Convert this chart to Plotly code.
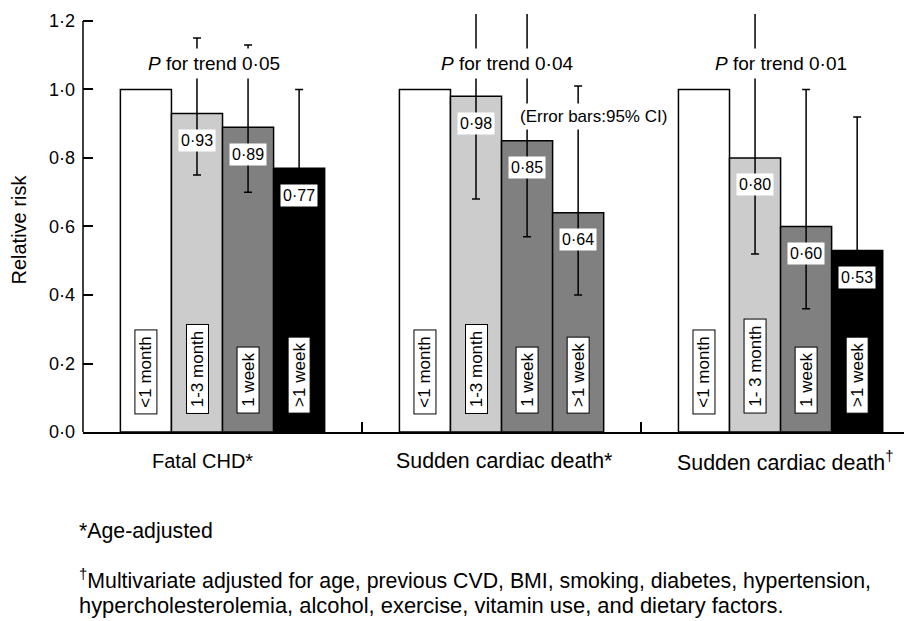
import plotly.graph_objects as go

# ---------------- data ----------------
outcomes = ["Fatal CHD*", "Sudden cardiac death*", "Sudden cardiac death<sup>†</sup>"]
series_names = ["<1 month", "1-3 month", "1 week", ">1 week"]
bar_labels = [
    ["<1 month", "1-3 month", "1 week", ">1 week"],
    ["<1 month", "1-3 month", "1 week", ">1 week"],
    ["<1 month", "1- 3 month", "1 week", ">1 week"],
]
rr_lt1month = [1.00, 1.00, 1.00]
rr_1to3month = [0.93, 0.98, 0.80]
rr_1week = [0.89, 0.85, 0.60]
rr_gt1week = [0.77, 0.64, 0.53]

ci_hi_1to3month = [1.15, 1.30, 1.40]
ci_lo_1to3month = [0.75, 0.68, 0.52]
ci_hi_1week = [1.13, 1.30, 1.00]
ci_lo_1week = [0.70, 0.57, 0.36]
ci_hi_gt1week = [1.00, 1.01, 0.92]
ci_lo_gt1week = [0.60, 0.40, 0.30]

p_trend = ["0·05", "0·04", "0·01"]
y_ticks = [0.0, 0.2, 0.4, 0.6, 0.8, 1.0, 1.2]

# ---------------- styling ----------------
fills = [
    ["white", "white", "white"],
    ["#cccccc", "#cccccc", "#cccccc"],
    ["#808080", "#808080", "#808080"],
    ["black", "#808080", "black"],
]
values = [rr_lt1month, rr_1to3month, rr_1week, rr_gt1week]
his = [None, ci_hi_1to3month, ci_hi_1week, ci_hi_gt1week]
los = [None, ci_lo_1to3month, ci_lo_1week, ci_lo_gt1week]

FONT = "Liberation Sans, Arial, sans-serif"
bargap = 0.268
w = (1 - bargap) / 4
offsets = [(-1.5 + k) * w for k in range(4)]

fig = go.Figure()
for j, name in enumerate(series_names):
    err = None
    if his[j] is not None:
        err = dict(
            type="data",
            symmetric=False,
            array=[h - v for h, v in zip(his[j], values[j])],
            arrayminus=[v - l for v, l in zip(values[j], los[j])],
            color="black",
            thickness=1.5,
            width=4,
        )
    fig.add_trace(
        go.Bar(
            x=outcomes,
            y=values[j],
            name=name,
            marker=dict(color=fills[j], line=dict(color="black", width=1.5)),
            error_y=err,
            showlegend=False,
        )
    )

ann = []
# labels inside bars (rotated, boxed)
for i in range(len(outcomes)):
    for j in range(4):
        ann.append(dict(
            x=i + offsets[j], y=0, xref="x", yref="y", yshift=18,
            text="\u00a0" + bar_labels[i][j].replace("<", "&lt;").replace(">", "&gt;") + "\u00a0",
            textangle=-90, showarrow=False, xanchor="center", yanchor="bottom",
            bgcolor="white", bordercolor="black", borderwidth=1, borderpad=1,
            font=dict(family=FONT, size=17, color="black"),
        ))
        if j > 0:
            v = values[j][i]
            ann.append(dict(
                x=i + offsets[j], y=v, xref="x", yref="y", yshift=-27,
                text=f"{v:.2f}".replace(".", "·"), showarrow=False,
                xanchor="center", yanchor="middle",
                bgcolor="white", borderpad=2,
                font=dict(family=FONT, size=16, color="black"),
            ))

# P for trend
p_x = [-0.032, 1.02, 2.0]
for i in range(len(outcomes)):
    ann.append(dict(
        x=p_x[i], y=1.077, xref="x", yref="y",
        text=f"<i>P</i> for trend {p_trend[i]}", showarrow=False,
        xanchor="center", yanchor="middle", bgcolor="white", borderpad=4,
        font=dict(family=FONT, size=19, color="black"),
    ))
ann.append(dict(
    x=1.33, y=0.92, xref="x", yref="y", text="(Error bars:95% CI)",
    showarrow=False, xanchor="center", yanchor="middle", bgcolor="white", borderpad=3,
    font=dict(family=FONT, size=17, color="black"),
))

# group labels under axis
grp_x = [-0.073, 1.007, 2.016]
grp_size = [20, 21.4, 21.4]
for i, o in enumerate(outcomes):
    ann.append(dict(
        x=grp_x[i], y=-0.0694, xref="x", yref="paper", text=o, showarrow=False,
        xanchor="center", yanchor="middle",
        font=dict(family=FONT, size=grp_size[i], color="black"),
    ))

# y-axis title
ann.append(dict(
    x=-0.0766, y=0.4856, xref="paper", yref="paper", text="Relative risk",
    textangle=-90, showarrow=False, xanchor="center", yanchor="middle",
    font=dict(family=FONT, size=20, color="black"),
))

# footnotes
ann.append(dict(
    x=-0.00724, y=-0.2368, xref="paper", yref="paper", text="*Age-adjusted",
    showarrow=False, xanchor="left", yanchor="middle",
    font=dict(family=FONT, size=21.3, color="black"),
))
ann.append(dict(
    x=-0.00724, y=-0.3517, xref="paper", yref="paper",
    text="<sup>†</sup>Multivariate adjusted for age, previous CVD, BMI, smoking, diabetes, hypertension,",
    showarrow=False, xanchor="left", yanchor="middle",
    font=dict(family=FONT, size=21.3, color="black"),
))
ann.append(dict(
    x=-0.00724, y=-0.414, xref="paper", yref="paper",
    text="hypercholesterolemia, alcohol, exercise, vitamin use, and dietary factors.",
    showarrow=False, xanchor="left", yanchor="middle",
    font=dict(family=FONT, size=21.9, color="black"),
))

# the page body adds an 8px margin, so the figure is sized to fit the 912x621 window
fig.update_layout(
    width=904, height=613,
    margin=dict(l=75, r=0, t=6, b=189, pad=0),
    paper_bgcolor="white", plot_bgcolor="white",
    barmode="group", bargap=bargap, bargroupgap=0,
    annotations=ann,
    shapes=[dict(type="line", xref="paper", yref="y", x0=0, x1=0, y0=0, y1=1.2,
                 line=dict(color="black", width=1.5))],
    xaxis=dict(
        type="category", range=[-0.5, 2.471], showline=True, linecolor="black", linewidth=2,
        ticks="inside", tickson="boundaries", ticklen=10, tickwidth=1.5, tickcolor="black",
        showticklabels=False, showgrid=False, zeroline=False,
    ),
    yaxis=dict(
        range=[0, 1.2204], showline=False, ticks="inside", ticklen=10, tickwidth=1.5,
        tickcolor="black", tickvals=y_ticks,
        ticktext=[f"{v:.1f}".replace(".", "·") for v in y_ticks],
        tickfont=dict(family=FONT, size=18, color="black"),
        ticklabelstandoff=7, showgrid=False, zeroline=False,
    ),
    font=dict(family=FONT, color="black"),
)

fig.write_html("out.html")
